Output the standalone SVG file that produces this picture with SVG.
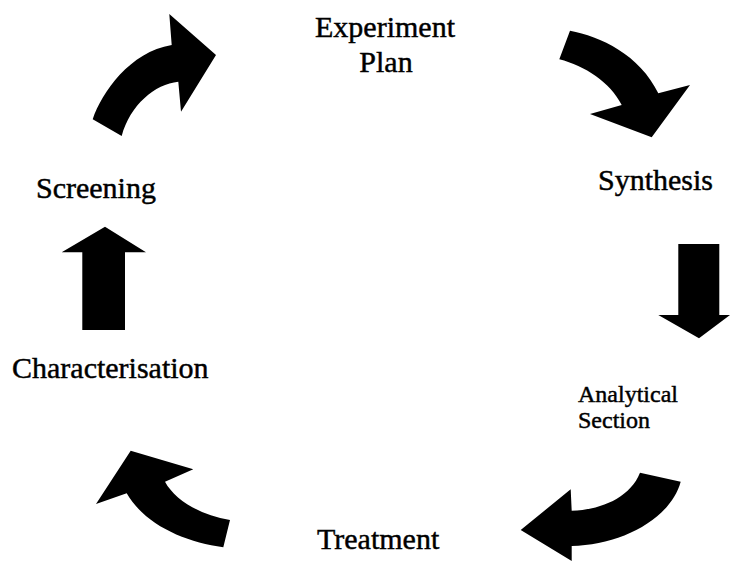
<svg xmlns="http://www.w3.org/2000/svg" width="741" height="564" viewBox="0 0 741 564">
<style>
text{font-family:'Liberation Serif','Times New Roman','DejaVu Serif',serif;font-size:30px;fill:#000;stroke:#000;stroke-width:0.45}
.sm{font-size:24px}
.arr{fill:#000;stroke:none}
</style>
<rect width="741" height="564" fill="#fff"/>
<g id="node-experiment-plan"><text x="385" y="37" text-anchor="middle">Experiment</text><text x="386" y="72" text-anchor="middle">Plan</text></g>
<g id="node-synthesis"><text x="598" y="190">Synthesis</text></g>
<g id="node-analytical-section"><text class="sm" x="578" y="402">Analytical</text><text class="sm" x="578" y="428">Section</text></g>
<g id="node-treatment"><text x="317" y="549">Treatment</text></g>
<g id="node-characterisation"><text x="12" y="378">Characterisation</text></g>
<g id="node-screening"><text x="36" y="198">Screening</text></g>
<g id="connectors">
<path class="arr" d="M92.7,119.3 C102,92 130,52 171.7,45 L169.3,14 L216,55 L181,111.7 L178.3,81.7 C155,84 130,105 121.7,136 Z"/>
<path class="arr" d="M570,30.7 C600,36 640,55 658.3,93.3 L690,85 L651.7,137.3 L590,114 L621.7,105 C610,82 585,66 559.3,59.3 Z"/>
<path class="arr" d="M678.3,244 H719.3 V315 H730 L699,338.3 L658.3,315 H678.3 Z"/>
<path class="arr" d="M680.7,481.7 C670,520 620,545 571.7,546 L571.7,561 L520.7,530 L570.7,489.3 L571.7,510.7 C600,510 630,498 640,472.7 Z"/>
<path class="arr" d="M230,520 C200,515 175,500 165,481.7 L193.3,469.3 L130.7,450.7 L96,504 L126.7,493.3 C145,525 185,542 223.3,547.3 Z"/>
<path class="arr" d="M82.3,330 V252.3 H61.7 L105,226.7 L146,252.3 H125 V330 Z"/>
</g>
</svg>
